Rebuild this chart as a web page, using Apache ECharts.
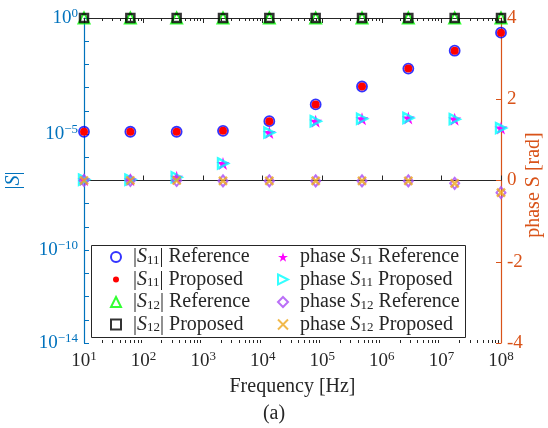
<!DOCTYPE html>
<html>
<head>
<meta charset="utf-8">
<script src="https://cdn.jsdelivr.net/npm/echarts@6/dist/echarts.min.js"></script>
<style>
  html, body { margin: 0; padding: 0; background: #fff; }
  #chart { width: 548px; height: 428px; }
</style>
</head>
<body>
<div id="chart"></div>
<script>
// frequencies (log spaced, 10 Hz .. 100 MHz)
const freq = [10, 60, 359, 2154, 12915, 77426, 464159, 2782559, 16681005, 100000000];

// magnitudes (left axis, log)
const s11Ref  = [1.26e-5, 1.26e-5, 1.26e-5, 1.38e-5, 3.6e-5, 1.9e-4, 1.12e-3, 6.6e-3, 3.9e-2, 0.234];
const s11Prop = [1.26e-5, 1.26e-5, 1.26e-5, 1.38e-5, 3.6e-5, 1.9e-4, 1.12e-3, 6.6e-3, 3.9e-2, 0.234];
const s12Ref  = [1, 1, 1, 1, 1, 1, 1, 1, 1, 1];
const s12Prop = [1, 1, 1, 1, 1, 1, 1, 1, 1, 1];

// phases (right axis, rad)
const phS11Ref  = [0.02, 0.02, 0.08, 0.42, 1.18, 1.46, 1.52, 1.54, 1.51, 1.29];
const phS11Prop = [0.02, 0.02, 0.08, 0.42, 1.18, 1.46, 1.52, 1.54, 1.51, 1.29];
const phS12Ref  = [0, 0, 0, -0.01, -0.01, -0.01, -0.01, -0.01, -0.07, -0.30];
const phS12Prop = [0, 0, 0, -0.01, -0.01, -0.01, -0.01, -0.01, -0.07, -0.30];

// ticks
const xMajor = [1e1, 1e2, 1e3, 1e4, 1e5, 1e6, 1e7, 1e8];
const xMinor = [];
xMajor.slice(0, -1).forEach(d => { for (let m = 2; m <= 9; m++) xMinor.push(m * d); });
const yDecades = [1e-14, 1e-13, 1e-12, 1e-11, 1e-10, 1e-9, 1e-8, 1e-7, 1e-6, 1e-5, 1e-4, 1e-3, 1e-2, 1e-1, 1];
const yLabelExp = [0, -5, -10, -14];
const phaseTicks = [-4, -2, 0, 2, 4];

const legendText = {
  s11r: '|{i|S}{sub|11}| Reference',
  s11p: '|{i|S}{sub|11}| Proposed',
  s12r: '|{i|S}{sub|12}| Reference',
  s12p: '|{i|S}{sub|12}| Proposed',
  p11r: 'phase {i|S}{sub|11} Reference',
  p11p: 'phase {i|S}{sub|11} Proposed',
  p12r: 'phase {i|S}{sub|12} Reference',
  p12p: 'phase {i|S}{sub|12} Proposed'
};

const FONT = 'Liberation Serif';
const BLUE = '#0072BD';
const ORANGE = '#D95319';
const DARK = '#262626';

const starPath = 'path://M10,0L12.24,6.91L19.51,6.91L13.63,11.18L15.88,18.09L10,13.82L4.12,18.09L6.37,11.18L0.49,6.91L7.76,6.91Z';
const triRight = 'path://M0,0L10,5L0,10Z';
const crossPath = 'path://M0,0L10,10M10,0L0,10';

const pairs = (ys) => freq.map((f, i) => [f, ys[i]]);
const supFmt = (v) => {
  const e = Math.round(Math.log10(v));
  return '10{sup|' + String(e).replace('-', '\u2212') + '}';
};
const richNum = {
  sup: { fontSize: 13, fontFamily: FONT, verticalAlign: 'top', lineHeight: 12 }
};

const chart = echarts.init(document.getElementById('chart'));

const legendRich = {
  i: { fontStyle: 'italic', fontSize: 20, fontFamily: FONT, color: DARK },
  sub: { fontSize: 13, fontFamily: FONT, color: DARK, verticalAlign: 'bottom', lineHeight: 12 }
};
const legendBase = {
  orient: 'vertical',
  padding: 0,
  itemGap: 2.5,
  itemWidth: 10,
  itemHeight: 10,
  selectedMode: false,
  formatter: n => legendText[n],
  textStyle: { fontFamily: FONT, fontSize: 20, color: DARK, lineHeight: 20, padding: [0, 0, 0, 7], rich: legendRich }
};

chart.setOption({
  animation: false,
  backgroundColor: '#fff',
  title: {
    text: '(a)', left: 'center', top: 404, padding: 0,
    textStyle: { fontFamily: FONT, fontSize: 20, fontWeight: 'normal', color: DARK }
  },
  grid: { left: 84, right: 47, top: 18, bottom: 85, outerBoundsMode: 'none' },
  legend: [
    Object.assign({}, legendBase, {
      left: 110, top: 247,
      data: [
        { name: 's11r' },
        { name: 's11p', icon: 'path://M0,0M10,10M2,5a3,3 0 1,0 6,0a3,3 0 1,0 -6,0' },
        { name: 's12r' },
        { name: 's12p' }
      ]
    }),
    Object.assign({}, legendBase, {
      left: 277, top: 247,
      data: ['p11r', 'p11p', 'p12r', 'p12p']
    })
  ],
  graphic: [
    {
      type: 'rect', left: 91, top: 245, z: 0,
      shape: { width: 374, height: 92 },
      style: { fill: '#fff', stroke: DARK, lineWidth: 1 }
    },
    {
      // right axis title
      type: 'text', x: 534, y: 185, rotation: Math.PI / 2,
      style: {
        text: 'phase S [rad]', fill: ORANGE, font: '20px "Liberation Serif"',
        align: 'center', verticalAlign: 'middle'
      }
    }
  ],
  xAxis: [
    {
      type: 'log', logBase: 10, min: 10, max: 1e8, position: 'bottom',
      name: 'Frequency [Hz]', nameLocation: 'middle', nameGap: 30,
      nameTextStyle: { fontFamily: FONT, fontSize: 20, color: DARK },
      axisLine: { lineStyle: { color: DARK, width: 1 } },
      axisTick: { inside: true, length: 5, customValues: xMajor, lineStyle: { color: DARK } },
      axisLabel: {
        customValues: xMajor, margin: 7, color: DARK,
        fontFamily: FONT, fontSize: 19, lineHeight: 22,
        formatter: supFmt, rich: richNum
      },
      splitLine: { show: false }
    },
    {
      type: 'log', logBase: 10, min: 10, max: 1e8, position: 'bottom',
      axisLine: { show: false },
      axisTick: { inside: true, length: 3, customValues: xMinor, lineStyle: { color: DARK } },
      axisLabel: { show: false }, splitLine: { show: false }
    },
    {
      type: 'log', logBase: 10, min: 10, max: 1e8, position: 'top',
      axisLine: { lineStyle: { color: DARK, width: 1 } },
      axisTick: { inside: true, length: 5, customValues: xMajor, lineStyle: { color: DARK } },
      axisLabel: { show: false }, splitLine: { show: false }
    },
    {
      type: 'log', logBase: 10, min: 10, max: 1e8, position: 'top',
      axisLine: { show: false },
      axisTick: { inside: true, length: 3, customValues: xMinor, lineStyle: { color: DARK } },
      axisLabel: { show: false }, splitLine: { show: false }
    }
  ],
  yAxis: [
    {
      type: 'log', logBase: 10, min: 1e-14, max: 1, position: 'left',
      name: '|{i|S}|', nameLocation: 'middle', nameGap: 60, nameRotate: 90,
      nameTextStyle: {
        fontFamily: FONT, fontSize: 20, color: BLUE,
        rich: { i: { fontStyle: 'italic', fontFamily: FONT, fontSize: 20, color: BLUE } }
      },
      axisLine: { lineStyle: { color: BLUE, width: 1.2 } },
      axisTick: { inside: true, length: 5, customValues: yDecades, lineStyle: { color: BLUE } },
      axisLabel: {
        customValues: yLabelExp.map(e => Math.pow(10, e)), margin: 6, color: BLUE,
        fontFamily: FONT, fontSize: 19, lineHeight: 22,
        formatter: supFmt, rich: richNum
      },
      splitLine: { show: false }
    },
    {
      type: 'value', min: -4, max: 4, interval: 2, position: 'right',
      axisLine: { lineStyle: { color: ORANGE, width: 1.2 } },
      axisTick: { inside: true, length: 5, lineStyle: { color: ORANGE } },
      axisLabel: { margin: 6, color: ORANGE, fontFamily: FONT, fontSize: 19, customValues: phaseTicks },
      splitLine: { show: false }
    }
  ],
  series: [
    { name: 's11r', type: 'scatter', z: 2, yAxisIndex: 0, data: pairs(s11Ref), symbol: 'circle', symbolSize: 10,
      itemStyle: { color: 'rgba(0,0,0,0)', borderColor: '#0000FF', borderWidth: 1.8 } },
    { name: 's11p', type: 'scatter', z: 3, yAxisIndex: 0, data: pairs(s11Prop), symbol: 'circle', symbolSize: 8,
      itemStyle: { color: '#FF0000', opacity: 1 } },
    { name: 's12r', type: 'scatter', z: 4, yAxisIndex: 0, data: pairs(s12Ref), symbol: 'triangle', symbolSize: 11,
      itemStyle: { color: 'rgba(0,0,0,0)', borderColor: '#00FF00', borderWidth: 2 } },
    { name: 's12p', type: 'scatter', z: 5, yAxisIndex: 0, data: pairs(s12Prop), symbol: 'rect', symbolSize: 8,
      itemStyle: { color: 'rgba(0,0,0,0)', borderColor: '#000000', borderWidth: 2.5 } },
    { name: 'p11r', type: 'scatter', z: 6, yAxisIndex: 1, data: pairs(phS11Ref), symbol: starPath, symbolSize: 13,
      itemStyle: { color: '#FF00FF', opacity: 1 } },
    { name: 'p11p', type: 'scatter', z: 7, yAxisIndex: 1, data: pairs(phS11Prop), symbol: triRight, symbolSize: 10,
      itemStyle: { color: 'rgba(0,0,0,0)', borderColor: '#00FFFF', borderWidth: 2.4 } },
    { name: 'p12r', type: 'scatter', z: 8, yAxisIndex: 1, data: pairs(phS12Ref), symbol: 'diamond', symbolSize: [9, 11],
      itemStyle: { color: 'rgba(0,0,0,0)', borderColor: '#A94BF5', borderWidth: 2 } },
    { name: 'p12p', type: 'scatter', z: 9, yAxisIndex: 1, data: pairs(phS12Prop), symbol: crossPath, symbolSize: 8,
      itemStyle: { color: 'rgba(0,0,0,0)', borderColor: '#EDA81E', borderWidth: 2.4 } }
  ]
});
</script>
</body>
</html>
